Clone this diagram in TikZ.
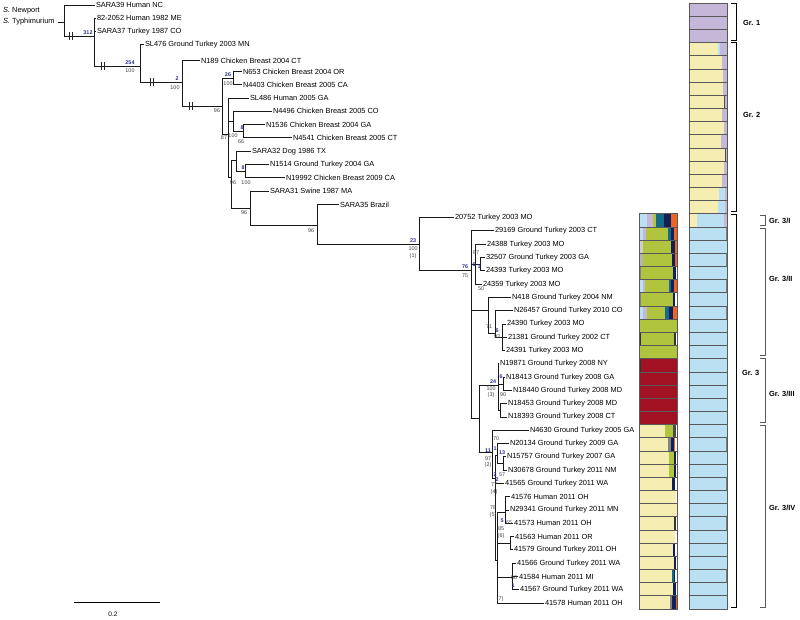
\documentclass[tikz,border=0pt]{standalone}
\usepackage{fontspec}
\setmainfont{Liberation Sans}
\definecolor{purp}{RGB}{197,183,215}
\definecolor{yel}{RGB}{245,237,178}
\definecolor{lblu}{RGB}{187,224,241}
\definecolor{grn}{RGB}{177,196,62}
\definecolor{dred}{RGB}{163,18,35}
\definecolor{teal2}{RGB}{22,105,135}
\definecolor{navy2}{RGB}{18,32,88}
\definecolor{orng}{RGB}{238,100,35}
\definecolor{bluelab}{RGB}{40,45,140}
\definecolor{gry}{RGB}{130,130,130}
\newcommand\bseg[4]{\fill[#4] (#2,{3+13.17*#1}) rectangle (#3,{3+13.17*(#1+1)});}
\newcommand\lrow[2]{\foreach \a/\b/\c in {#2} {\bseg{#1}{\a}{\b}{\c}}}
\newcommand\E[2]{\draw[br] (#1) |- (#2);}
\newcommand\hsh[2]{\draw[hs] (#1-1.5,#2-4) -- (#1-1.5,#2+4) (#1+1.5,#2-4) -- (#1+1.5,#2+4);}
\begin{document}
\begin{tikzpicture}[x=1pt,y=-1pt,
  br/.style={line width=0.95pt, draw=black!90},
  hs/.style={line width=0.7pt, draw=black!85},
  lf/.style={anchor=west, inner sep=0.8pt, font=\fontsize{7.4}{8}\selectfont},
  sv/.style={font=\fontsize{5.4}{6}\selectfont, inner sep=0pt, text=black!75},
  bv/.style={font=\bfseries\fontsize{5.4}{6}\selectfont, inner sep=0pt, text=bluelab},
  gl/.style={font=\bfseries\fontsize{7.4}{9}\selectfont, anchor=west, inner sep=0pt},
  bo/.style={draw=black!65, line width=0.5pt},
  brk/.style={draw=black, line width=0.8pt},
  sbrk/.style={draw=black!65, line width=0.8pt}]
\useasboundingbox (0,0) rectangle (800,620);

% ---------------- root labels ----------------
\node[anchor=west, inner sep=0pt, font=\fontsize{7.4}{8}\selectfont] (sn) at (3,11) {\textit{S.} Newport};
\node[anchor=west, inner sep=0pt, font=\fontsize{7.4}{8}\selectfont] (st) at (3,22) {\textit{S.} Typhimurium};

% ---------------- leaves ----------------
\node[lf] (L0) at (95,5) {SARA39 Human NC};
\node[lf] (L1) at (96,18.3) {82-2052 Human 1982 ME};
\node[lf] (L2) at (96,31.6) {SARA37 Turkey 1987 CO};
\node[lf] (L3) at (144,44.9) {SL476 Ground Turkey 2003 MN};
\node[lf] (L4) at (200,60.5) {N189 Chicken Breast 2004 CT};
\node[lf] (L5) at (242,71.5) {N653 Chicken Breast 2004 OR};
\node[lf] (L6) at (242,84.7) {N4403 Chicken Breast 2005 CA};
\node[lf] (L7) at (249,98) {SL486 Human 2005 GA};
\node[lf] (L8) at (272,111.3) {N4496 Chicken Breast 2005 CO};
\node[lf] (L9) at (265,124.6) {N1536 Chicken Breast 2004 GA};
\node[lf] (L10) at (292,137.9) {N4541 Chicken Breast 2005 CT};
\node[lf] (L11) at (251,151.2) {SARA32 Dog 1986 TX};
\node[lf] (L12) at (269,164.5) {N1514 Ground Turkey 2004 GA};
\node[lf] (L13) at (285,177.8) {N19992 Chicken Breast 2009 CA};
\node[lf] (L14) at (269,191.1) {SARA31 Swine 1987 MA};
\node[lf] (L15) at (339,204.4) {SARA35 Brazil};
\node[lf] (L16) at (454,217.6) {20752 Turkey 2003 MO};
\node[lf] (L17) at (494,230.9) {29169 Ground Turkey 2003 CT};
\node[lf] (L18) at (486,244.2) {24388 Turkey 2003 MO};
\node[lf] (L19) at (485,257.5) {32507 Ground Turkey 2003 GA};
\node[lf] (L20) at (485,270.8) {24393 Turkey 2003 MO};
\node[lf] (L21) at (482,284.1) {24359 Turkey 2003 MO};
\node[lf] (L22) at (511,297.4) {N418 Ground Turkey 2004 NM};
\node[lf] (L23) at (513,310.7) {N26457 Ground Turkey 2010 CO};
\node[lf] (L24) at (506,324) {24390 Turkey 2003 MO};
\node[lf] (L25) at (507,337.3) {21381 Ground Turkey 2002 CT};
\node[lf] (L26) at (505,350.5) {24391 Turkey 2003 MO};
\node[lf] (L27) at (499,363.8) {N19871 Ground Turkey 2008 NY};
\node[lf] (L28) at (505,377.1) {N18413 Ground Turkey 2008 GA};
\node[lf] (L29) at (512,390.4) {N18440 Ground Turkey 2008 MD};
\node[lf] (L30) at (507,403.7) {N18453 Ground Turkey 2008 MD};
\node[lf] (L31) at (507,417) {N18393 Ground Turkey 2008 CT};
\node[lf] (L32) at (529,430.3) {N4630 Ground Turkey 2005 GA};
\node[lf] (L33) at (509,443.6) {N20134 Ground Turkey 2009 GA};
\node[lf] (L34) at (506,456.9) {N15757 Ground Turkey 2007 GA};
\node[lf] (L35) at (507,470.2) {N30678 Ground Turkey 2011 NM};
\node[lf] (L36) at (504,483.4) {41565 Ground Turkey 2011 WA};
\node[lf] (L37) at (510,496.7) {41576 Human 2011 OH};
\node[lf] (L38) at (509,510) {N29341 Ground Turkey 2011 MN};
\node[lf] (L39) at (513,523.3) {41573 Human 2011 OH};
\node[lf] (L40) at (514,536.6) {41563 Human 2011 OR};
\node[lf] (L41) at (513,549.9) {41579 Ground Turkey 2011 OH};
\node[lf] (L42) at (516,563.2) {41566 Ground Turkey 2011 WA};
\node[lf] (L43) at (518,576.5) {41584 Human 2011 MI};
\node[lf] (L44) at (519,589.8) {41567 Ground Turkey 2011 WA};
\node[lf] (L45) at (544,603) {41578 Human 2011 OH};

% ---------------- internal nodes ----------------
\coordinate (r0) at (58,22);
\coordinate (r) at (64,22);
\coordinate (n1) at (94.5,36);
\coordinate (n2) at (140,66);
\coordinate (n3) at (182,82);
\coordinate (n4) at (222,106);
\coordinate (n5) at (233,78);
\coordinate (n6) at (228,134);
\coordinate (c1) at (233,121);
\coordinate (c1b) at (243,131);
\coordinate (n8) at (231,177);
\coordinate (c2) at (236,160);
\coordinate (c2b) at (245,171);
\coordinate (n9) at (250,208);
\coordinate (n10) at (317,225);
\coordinate (g1) at (419,244);
\coordinate (g2) at (471,270);
\coordinate (a1) at (475,264);
\coordinate (a2) at (480,264);
\coordinate (b1) at (488,310);
\coordinate (b2) at (495,333);
\coordinate (b3) at (502,337);
\coordinate (cm) at (479,418);
\coordinate (c3) at (498,385);
\coordinate (c3b) at (503,384);
\coordinate (c3c) at (500,410);
\coordinate (d0) at (492,452);
\coordinate (d1) at (495,478);
\coordinate (dd) at (497,455);
\coordinate (d2) at (503,463);
\coordinate (e0) at (497,560);
\coordinate (e1) at (505,512);
\coordinate (f1) at (510,543);
\coordinate (f2) at (512,577);

% ---------------- branches ----------------
\draw[br] (r0) -- (r);
\E{r}{L0.west} \E{r}{n1}
\E{n1}{L1.west} \E{n1}{L2.west} \E{n1}{n2}
\E{n2}{L3.west} \E{n2}{n3}
\E{n3}{L4.west} \E{n3}{n4}
\E{n4}{n5} \E{n4}{n6}
\E{n5}{L5.west} \E{n5}{L6.west}
\E{n6}{L7.west} \E{n6}{c1} \E{n6}{n8}
\E{c1}{L8.west} \E{c1}{c1b}
\E{c1b}{L9.west} \E{c1b}{L10.west}
\E{n8}{c2} \E{n8}{n9}
\E{c2}{L11.west} \E{c2}{c2b}
\E{c2b}{L12.west} \E{c2b}{L13.west}
\E{n9}{L14.west} \E{n9}{n10}
\E{n10}{L15.west} \E{n10}{g1}
\E{g1}{L16.west} \E{g1}{g2}
\E{g2}{L17.west} \E{g2}{a1} \E{g2}{b1} \E{g2}{cm}
\E{a1}{L18.west} \E{a1}{a2} \E{a1}{L21.west}
\E{a2}{L19.west} \E{a2}{L20.west}
\E{b1}{L22.west} \E{b1}{b2}
\E{b2}{L23.west} \E{b2}{b3}
\E{b3}{L24.west} \E{b3}{L25.west} \E{b3}{L26.west}
\E{cm}{c3} \E{cm}{d0}
\E{c3}{L27.west} \E{c3}{c3b} \E{c3}{c3c}
\E{c3b}{L28.west} \E{c3b}{L29.west}
\E{c3c}{L30.west} \E{c3c}{L31.west}
\E{d0}{L32.west} \E{d0}{d1}
\E{d1}{dd} \E{d1}{L36.west} \E{d1}{e0}
\E{dd}{L33.west} \E{dd}{d2}
\E{d2}{L34.west} \E{d2}{L35.west}
\E{e0}{e1} \E{e0}{f1} \E{e0}{f2} \E{e0}{L45.west}
\E{e1}{L37.west} \E{e1}{L38.west} \E{e1}{L39.west}
\E{f1}{L40.west} \E{f1}{L41.west}
\E{f2}{L42.west} \E{f2}{L43.west} \E{f2}{L44.west}

% break marks
\hsh{70.5}{36} \hsh{102.5}{66} \hsh{151.5}{82} \hsh{190.5}{106}

% ---------------- support values ----------------
\node[bv] at (88,33) {312};
\node[bv] at (130,62.5) {254}; \node[sv] at (130,71) {100};
\node[bv] at (177,78.5) {2}; \node[sv] at (175,88) {100};
\node[bv] at (228,75) {26}; \node[sv] at (228,84) {100};
\node[sv] at (217,111) {96};
\node[bv] at (242,127.5) {8}; \node[sv] at (233,136) {100}; \node[sv] at (241,142) {66};
\node[sv] at (224,137.5) {87};
\node[bv] at (243,168) {8}; \node[sv] at (233,183) {96}; \node[sv] at (246,183) {100};
\node[sv] at (244,213) {96};
\node[sv] at (311,231) {96};
\node[bv] at (413,241) {23}; \node[sv] at (413,249) {100}; \node[sv] at (413,256) {(1)};
\node[bv] at (465,267) {76}; \node[sv] at (465,276) {75};
\node[sv] at (476,253) {87}; \node[bv] at (474,265) {6}; \node[bv] at (479,267) {1}; \node[sv] at (481,289) {50};
\node[sv] at (489,327) {71}; \node[bv] at (497,331) {6}; \node[sv] at (497,337) {93};
\node[bv] at (493,382) {24}; \node[sv] at (491,389) {100}; \node[sv] at (491,395) {(3)};
\node[bv] at (501,377) {6}; \node[sv] at (503,395) {90};
\node[sv] at (496,439) {70}; \node[bv] at (495,449) {1}; \node[bv] at (502,453) {13};
\node[bv] at (488,451) {11}; \node[sv] at (488,459) {97}; \node[sv] at (488,465) {(2)};
\node[sv] at (502,475) {57}; \node[bv] at (495,475) {2}; \node[bv] at (497,480) {2};
\node[sv] at (494,485) {77}; \node[sv] at (494,492) {(4)};
\node[sv] at (493,508) {78}; \node[sv] at (493,515) {(5)};
\node[bv] at (502,521) {5}; \node[sv] at (509,523) {65};
\node[sv] at (501,529) {85}; \node[sv] at (501,536) {(6)};
\node[sv] at (514,578) {56}; \node[bv] at (513,586) {1};
\node[sv] at (500,599) {(7)};

% ---------------- scale bar ----------------
\coordinate (sb1) at (74,602); \coordinate (sb2) at (160,602);
\draw[line width=0.9pt] (sb1) -- (sb2);
\node[font=\fontsize{6.5}{7}\selectfont, inner sep=0pt] (sbl) at (113,614) {0.2};

% ---------------- right bar column ----------------
\foreach \r in {0,1,2} {\bseg{\r}{689}{727}{purp}}
\foreach \r/\Y in {3/718,4/722,5/723,6/723,7/724,8/722,9/724,10/721,11/725,12/724,13/722,14/719,15/718} {\bseg{\r}{689}{727}{purp}\bseg{\r}{689}{\Y}{yel}}
\bseg{3}{718}{719.5}{lblu}
\bseg{14}{719}{725}{lblu}
\bseg{15}{718}{725}{lblu}
\bseg{7}{724}{724.8}{black!70}
\bseg{11}{725}{725.8}{black!70}
\foreach \r in {16,...,45} {\bseg{\r}{689}{727}{lblu}}
\bseg{16}{689}{697}{yel}
\bseg{16}{724}{727}{purp}
\foreach \r in {17,19,21,23,33,36,39,43} {\bseg{\r}{725.8}{727}{gry}}
\foreach \r in {0,...,45} {\draw[bo] (689,{3+13.17*\r}) rectangle (727,{3+13.17*(\r+1)});}

% ---------------- left bar column (Gr. 3) ----------------
\lrow{16}{639/647/lblu, 647/653/purp, 653/656/grn, 656/664/teal2, 664/671/navy2, 671/677/orng}
\lrow{17}{639/643/lblu, 643/646/purp, 646/668/grn, 668/671/teal2, 671/674/navy2, 674/677/orng}
\lrow{18}{639/643/gry!40, 643/671/grn, 671/674.5/navy2, 674.5/677/orng}
\lrow{19}{639/643/gry!60, 643/672/grn, 672/675/navy2, 675/677/orng}
\lrow{20}{639/641/gry, 641/673/grn, 673/676/navy2}
\lrow{21}{639/643/lblu, 643/645/purp, 645/669/grn, 669/671/teal2, 671/673.5/navy2, 673.5/677/orng}
\lrow{22}{639/641/gry, 641/673/grn, 673/675/navy2}
\lrow{23}{639/643/lblu, 643/647/purp, 647/665/grn, 665/669/teal2, 669/673/navy2, 673/677/orng}
\lrow{24}{639/677/grn}
\lrow{25}{639/640.5/black!80, 640.5/674/grn, 674/676/black!80}
\lrow{26}{639/677/grn}
\lrow{27}{639/677/dred, 639/640.5/black!80}
\foreach \r in {28,...,31} {\bseg{\r}{639}{677}{dred}}
\lrow{32}{639/665/yel, 665/673/grn, 673/676/black!70}
\lrow{33}{639/668/yel, 668/671/gry, 671/674/navy2, 674/675/orng}
\lrow{34}{639/669/yel, 669/674/grn, 674/676/navy2}
\lrow{35}{639/669/yel, 669/674/grn, 674/676/navy2}
\lrow{36}{639/672/yel, 672/675/navy2}
\lrow{37}{639/676/yel}
\lrow{38}{639/677/yel}
\lrow{39}{639/674/yel, 674/675.5/black!80}
\lrow{40}{639/675/yel}
\lrow{41}{639/673/yel, 673/675/navy2}
\lrow{42}{639/674/yel, 674/676/navy2}
\lrow{43}{639/672/yel, 672/673.5/teal2, 673.5/675/navy2}
\lrow{44}{639/673/yel, 673/676/navy2}
\lrow{45}{639/670/yel, 670/672/gry, 672/676/navy2, 676/677/orng}
\foreach \r in {16,...,45} {\draw[bo] (639,{3+13.17*\r}) rectangle (677,{3+13.17*(\r+1)});}

% ---------------- group brackets ----------------
\draw[brk] (731,3.5) -- (736,3.5) -- (736,40) -- (731,40);
\draw[brk] (731,42.5) -- (736,42.5) -- (736,211.5) -- (731,211.5);
\draw[brk] (731,214) -- (736,214) -- (736,607) -- (731,607);
\draw[sbrk] (760,215) -- (765,215) -- (765,225) -- (760,225);
\draw[sbrk] (760,228) -- (765,228) -- (765,355) -- (760,355);
\draw[sbrk] (760,358) -- (765,358) -- (765,422) -- (760,422);
\draw[sbrk] (760,425) -- (765,425) -- (765,607) -- (760,607);
\node[gl] (g1l) at (743,23) {Gr. 1};
\node[gl] (g2l) at (743,115) {Gr. 2};
\node[gl] (g3l) at (742,373) {Gr. 3};
\node[gl] (g3a) at (769,221) {Gr. 3/I};
\node[gl] (g3b) at (769,279) {Gr. 3/II};
\node[gl] (g3c) at (769,394) {Gr. 3/III};
\node[gl] (g3d) at (769,508) {Gr. 3/IV};
\end{tikzpicture}
\end{document}
